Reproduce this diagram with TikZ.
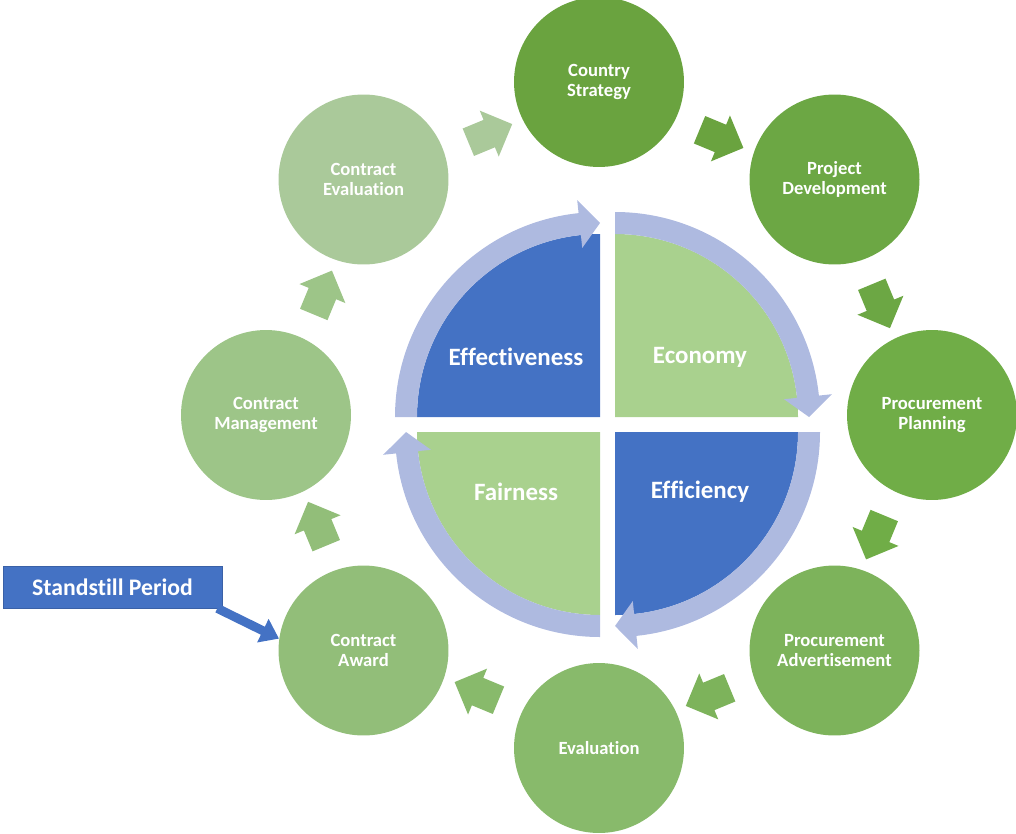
\documentclass[tikz,border=0pt]{standalone}
\usepackage{fontspec}
\setmainfont{Carlito}[Ligatures=CommonOff]
\usetikzlibrary{shapes.arrows}
\usetikzlibrary{arrows.meta}

\definecolor{greenA}{HTML}{6AA33F}
\definecolor{greenB}{HTML}{6CA744}
\definecolor{greenC}{HTML}{70AD47}
\definecolor{greenD}{HTML}{7DB35B}
\definecolor{greenE}{HTML}{88BA6B}
\definecolor{greenF}{HTML}{92BE79}
\definecolor{greenG}{HTML}{9DC588}
\definecolor{greenH}{HTML}{AAC99A}
\definecolor{quadBlue}{HTML}{4472C4}
\definecolor{quadGreen}{HTML}{A9D18E}
\definecolor{ringBlue}{HTML}{AEBAE0}

\begin{document}
\begin{tikzpicture}[x=0.02cm,y=0.02cm]
\useasboundingbox (0,0) rectangle (1016,833);
\tikzstyle{stage} =
[
	shape			= circle,			% round stage
	minimum size	= 3.4cm,			% diameter of the circle
	inner sep		= 0cm,				% no padding
	text			= white,			% colour of the label
	align			= center,			% two-line labels
	font			= \bfseries\fontsize{10.6}{11.8}\selectfont	% used font
]
\tikzstyle{turn} =
[
	shape			= single arrow,		% block arrow between stages
	minimum height	= 0.95cm,			% length tip to tail
	inner xsep		= 0cm,				% |
	inner ysep		= 0.29cm,			% | half the shaft width
	single arrow head extend = 0.2cm	% head overhang
]
\tikzstyle{pillar} =
[
	text			= white,
	font			= \bfseries\fontsize{14.2}{16}\selectfont
]
\tikzstyle{ring} = [fill = ringBlue]

% stages of the cycle
\node (strategy) [stage, fill = greenA] at (599,751) {Country\\Strategy};
\node (project) [stage, fill = greenB] at (834.5,653.5) {Project\\Development};
\node (planning) [stage, fill = greenC] at (932,418) {Procurement\\Planning};
\node (advert) [stage, fill = greenD] at (834.5,182.5) {Procurement\\Advertisement};
\node (evaluation) [stage, fill = greenE] at (599,85) {Evaluation};
\node (award) [stage, fill = greenF] at (363.5,182.5) {Contract\\Award};
\node (management) [stage, fill = greenG] at (266,418) {Contract\\Management};
\node (review) [stage, fill = greenH] at (363.5,653.5) {Contract\\Evaluation};

% arrows between the stages
\node (t1) [turn, fill = greenA, rotate = -22.5] at (714.6,697) {};
\node (t2) [turn, fill = greenB, rotate = -67.5] at (878,533.6) {};
\node (t3) [turn, fill = greenC, rotate = -112.5] at (878,302.4) {};
\node (t4) [turn, fill = greenD, rotate = -157.5] at (714.6,139) {};
\node (t5) [turn, fill = greenE, rotate = 157.5] at (483.4,139) {};
\node (t6) [turn, fill = greenF, rotate = 112.5] at (320,302.4) {};
\node (t7) [turn, fill = greenG, rotate = 67.5] at (320,533.6) {};
\node (t8) [turn, fill = greenH, rotate = 22.5] at (483.4,697) {};

% four quarters in the middle
\coordinate (tl) at (600,416);
\coordinate (tr) at (615,416);
\coordinate (bl) at (600,401);
\coordinate (br) at (615,401);
\fill [quadBlue] (tl) -- ++(180:183) arc [start angle=180, end angle=90, radius=183] -- cycle;
\fill [quadGreen] (tr) -- ++(90:183) arc [start angle=90, end angle=0, radius=183] -- cycle;
\fill [quadBlue] (br) -- ++(0:183) arc [start angle=0, end angle=-90, radius=183] -- cycle;
\fill [quadGreen] (bl) -- ++(-90:183) arc [start angle=-90, end angle=-180, radius=183] -- cycle;

% curved arrows round the quarters
\fill [ring] ([shift={(180:205)}]tl) arc [start angle=180, end angle=96, radius=205]
	-- ([shift={(96:218)}]tl) -- ([shift={(90:194)}]tl) -- ([shift={(96:170)}]tl)
	-- ([shift={(96:183)}]tl) arc [start angle=96, end angle=180, radius=183] -- cycle;
\fill [ring] ([shift={(90:205)}]tr) arc [start angle=90, end angle=6, radius=205]
	-- ([shift={(6:218)}]tr) -- ([shift={(0:194)}]tr) -- ([shift={(6:170)}]tr)
	-- ([shift={(6:183)}]tr) arc [start angle=6, end angle=90, radius=183] -- cycle;
\fill [ring] ([shift={(0:205)}]br) arc [start angle=0, end angle=-84, radius=205]
	-- ([shift={(-84:218)}]br) -- ([shift={(-90:194)}]br) -- ([shift={(-84:170)}]br)
	-- ([shift={(-84:183)}]br) arc [start angle=-84, end angle=0, radius=183] -- cycle;
\fill [ring] ([shift={(-90:205)}]bl) arc [start angle=-90, end angle=-174, radius=205]
	-- ([shift={(-174:218)}]bl) -- ([shift={(-180:194)}]bl) -- ([shift={(-174:170)}]bl)
	-- ([shift={(-174:183)}]bl) arc [start angle=-174, end angle=-90, radius=183] -- cycle;

\node (effect) [pillar] at (516,476) {Effectiveness};
\node (economy) [pillar] at (700,476) {Economy};
\node (fair) [pillar] at (516,341) {Fairness};
\node (effic) [pillar] at (700,341) {Efficiency};

% standstill callout
\node (ssp) [fill = quadBlue, draw = quadBlue!85!black, line width = 0.4pt,
	minimum width = 4.38cm, minimum height = 0.84cm, inner sep = 0cm,
	text = white, font = \bfseries\fontsize{13.5}{15}\selectfont] at (112.5,246) {Standstill Period};
\draw [quadBlue, line width = 0.18cm, -{Triangle[width=0.5cm, length=0.36cm]}]
	([xshift=-0.1cm]ssp.south east) -- (award.172);
\end{tikzpicture}
\end{document}
